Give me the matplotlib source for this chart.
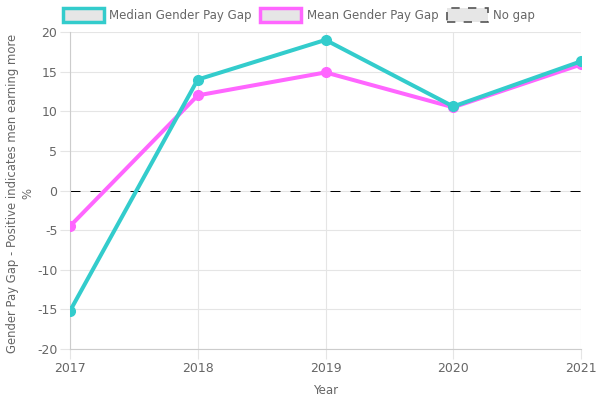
import matplotlib
matplotlib.use("Agg")
import matplotlib.pyplot as plt
from matplotlib.patches import Patch

years = [2017, 2018, 2019, 2020, 2021]
median_gap = [-15.2, 14.0, 19.0, 10.6, 16.3]
mean_gap = [-4.5, 12.0, 14.9, 10.5, 15.9]
no_gap = [0, 0, 0, 0, 0]
y_ticks = [-20, -15, -10, -5, 0, 5, 10, 15, 20]

teal = "#33cccc"
pink = "#ff66ff"
txt = "#666666"
grid = "#e5e5e5"

plt.rcParams['font.family'] = ['DejaVu Sans']
fig = plt.figure(figsize=(6, 4), dpi=100)
ax = fig.add_axes([70/600, 1-349/400, (581-70)/600, (349-32)/400])

ax.plot(years, no_gap, color="black", lw=0.72, linestyle=(0, (10, 10)), zorder=2)
ax.plot(years, mean_gap, color=pink, lw=2.9, marker="o", markersize=7, zorder=3)
ax.plot(years, median_gap, color=teal, lw=2.9, marker="o", markersize=7, zorder=4)

ax.set_xlim(2017, 2021)
ax.set_ylim(-20, 20)
ax.set_xticks(years)
ax.set_xticklabels([str(y) for y in years])
ax.set_yticks(y_ticks)
ax.set_yticklabels([str(v) for v in y_ticks])
ax.grid(True, color=grid, lw=0.8)
ax.set_axisbelow(True)
for s in ["top", "right"]:
    ax.spines[s].set_visible(False)
for s in ["left", "bottom"]:
    ax.spines[s].set_color("#cccccc")
    ax.spines[s].set_linewidth(0.8)
ax.tick_params(colors=txt, labelsize=9, length=7, width=0.8, color=grid, pad=2)
for lbl in ax.get_xticklabels() + ax.get_yticklabels():
    lbl.set_color(txt)

ax.set_xlabel("Year", color=txt, fontsize=8.5, labelpad=7)
ax.set_ylabel("Gender Pay Gap - Positive indicates men earning more\n%", color=txt,
              fontsize=8.4, linespacing=1.25)
ax.yaxis.set_label_coords(-0.07, 0.49)

handles = [
    Patch(facecolor="#e6e6e6", edgecolor=teal, linewidth=2.5, label="Median Gender Pay Gap"),
    Patch(facecolor="#e6e6e6", edgecolor=pink, linewidth=2.5, label="Mean Gender Pay Gap"),
    Patch(facecolor="#e6e6e6", edgecolor="#555555", linewidth=1.2, linestyle=(0, (5, 5)), label="No gap"),
]
leg = fig.legend(handles=handles, loc="center", bbox_to_anchor=(299/600, 1-15/400), ncol=3,
                 frameon=False, fontsize=8.5, handlelength=3.45, handleheight=1.4,
                 handletextpad=0.45, columnspacing=0.75)
for t in leg.get_texts():
    t.set_color(txt)

fig.savefig("out.png", dpi=100)
